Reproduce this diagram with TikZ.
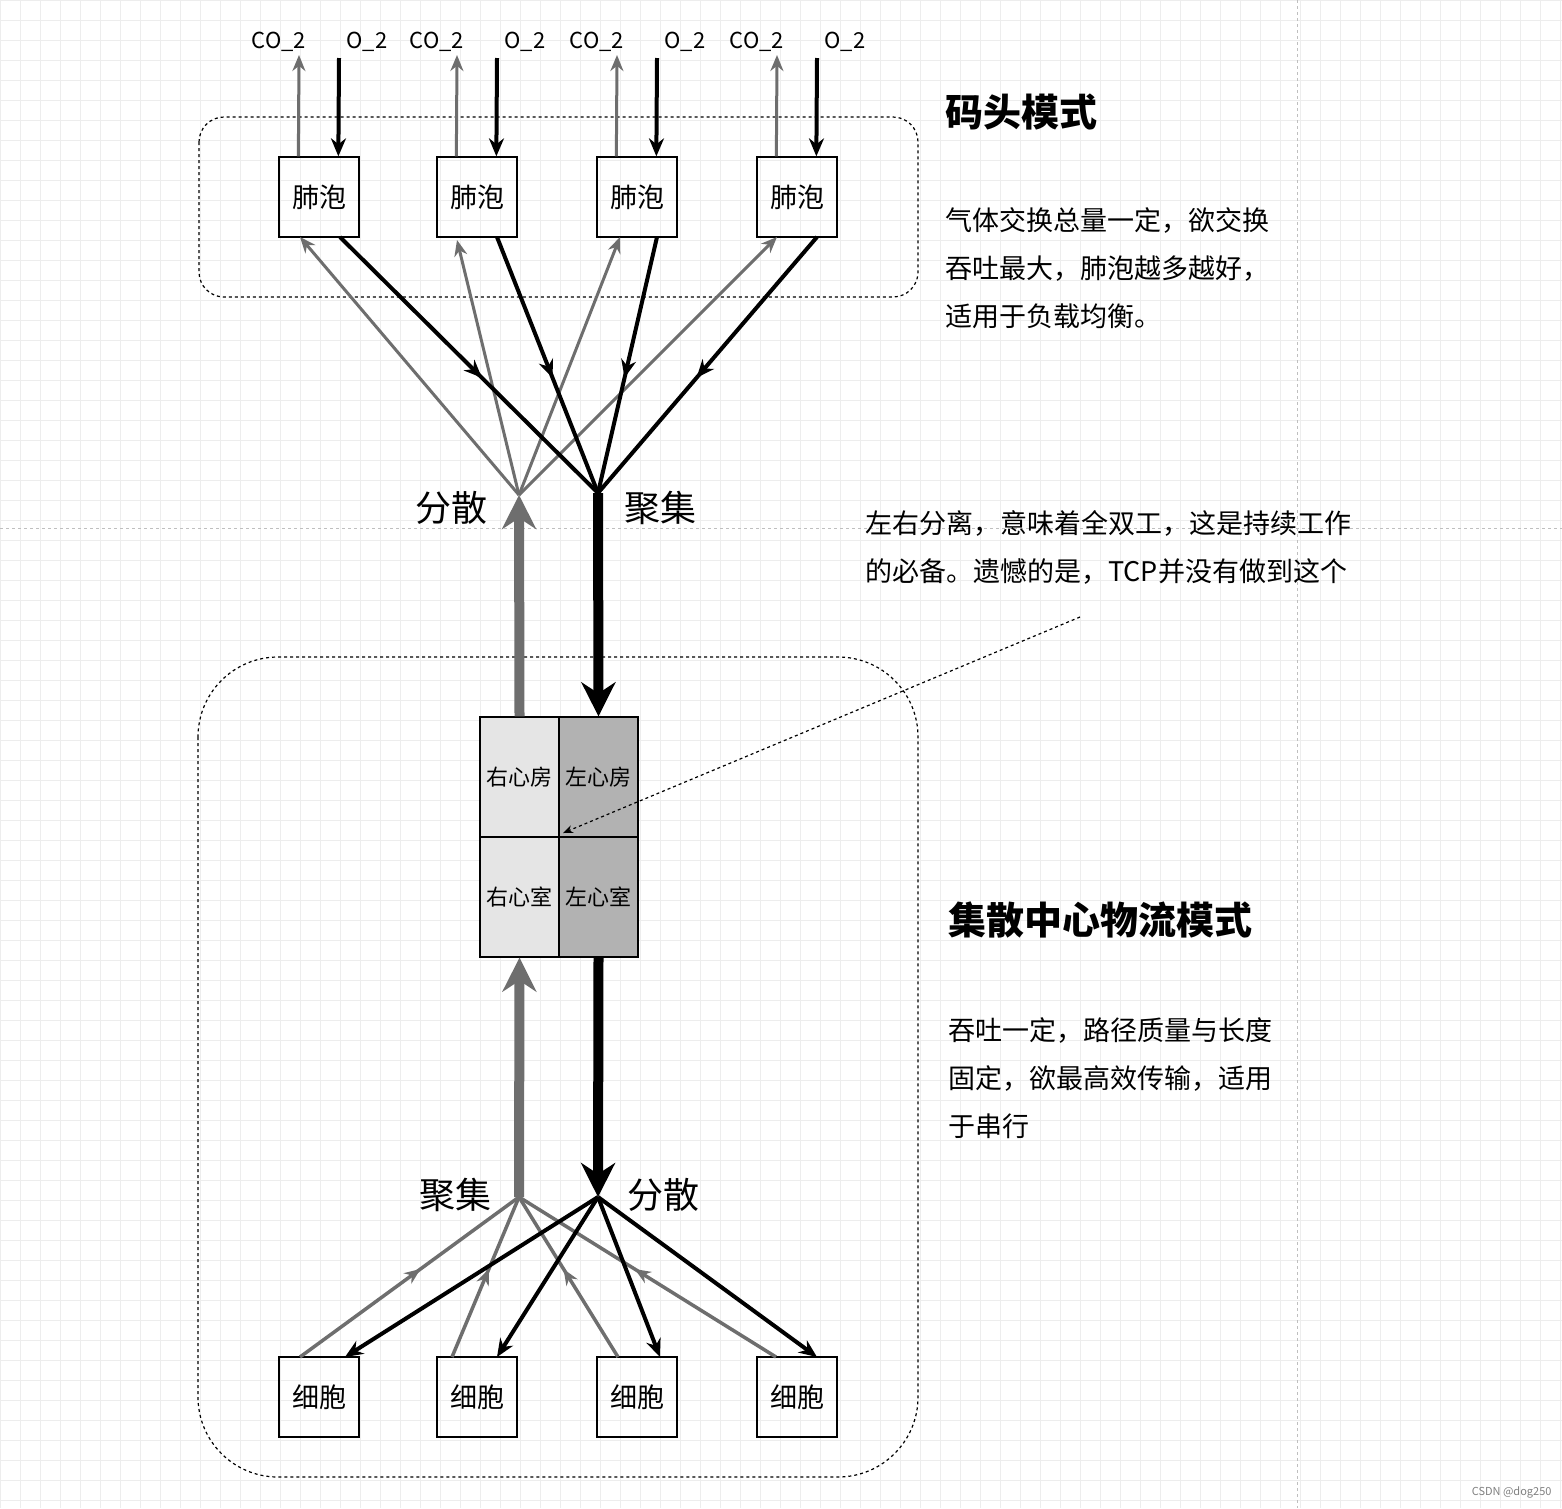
\documentclass[tikz,border=0pt]{standalone}
\usepackage{fontspec}
\setmainfont{Noto Sans CJK SC}
\usetikzlibrary{arrows.meta,decorations.markings,calc}
\definecolor{gr}{HTML}{6E6E6E}
\tikzset{
  fs/.style={font=\fontsize{#1}{#1}\selectfont},
  box/.style={draw,line width=1.3pt,minimum width=80pt,minimum height=80pt,inner sep=0pt,fs=27},
  cell/.style={draw,line width=1.3pt,minimum width=79pt,minimum height=120pt,inner sep=0pt,fs=22},
  thin/.style={line width=3pt,-{Stealth[length=16pt,width=13pt]}},
  blk/.style={line width=4pt,-{Stealth[length=18pt,width=15pt]}},
  mid/.style={line width=4pt,postaction={decorate},decoration={markings,mark=at position 0.55 with {\arrow{Stealth[length=18pt,width=15pt]}}}},
  midg/.style={gr,line width=3.5pt,postaction={decorate},decoration={markings,mark=at position 0.55 with {\arrow{Stealth[length=16pt,width=13pt]}}}},
  big/.style={line width=10pt,-{Stealth[length=34pt,width=34pt]}},
  lab/.style={fs=36,inner sep=0pt},
  para/.style={font=\fontsize{27}{48}\selectfont,align=left,anchor=north west,inner sep=0pt}
}
\begin{document}
\begin{tikzpicture}[x=1pt,y=-1pt]
\useasboundingbox (0,0) rectangle (1562,1508);
\fill[white] (0,0) rectangle (1562,1508);
\foreach \i in {0,20,...,1560} \draw[gray!14,line width=0.8pt] (\i,0)--(\i,1508);
\foreach \j in {0,20,...,1500} \draw[gray!14,line width=0.8pt] (0,\j)--(1562,\j);
\draw[gray!50,dashed,line width=1pt] (1297,0)--(1297,1508);
\draw[gray!50,dashed,line width=1pt] (0,528)--(1562,528);
% groups
\draw[dashed,line width=1.2pt,rounded corners=25pt] (199,117) rectangle (918,297);
\draw[dashed,line width=1.2pt,rounded corners=80pt] (198,657) rectangle (918,1477);
% hubs
\coordinate (D) at (519,495);
\coordinate (C) at (598,493);
\coordinate (D2) at (519,1197);
\coordinate (C2) at (598,1197);
% alveoli and cells
\foreach \n/\x in {1/319,2/477,3/637,4/797}{
  \node[box] (a\n) at (\x,197) {肺泡};
  \node[box] (c\n) at (\x,1397) {细胞};
  \coordinate (co\n) at (\x-20,55);
  \coordinate (o\n) at (\x+20,58);
  \node[fs=22,inner sep=0pt] (tco\n) at (\x-40,42) {CO\_2};
  \node[fs=22,inner sep=0pt] (to\n) at (\x+48,42) {O\_2};
  \draw[gr,thin] ($(a\n.north west)+(20,0)$) -- (co\n);
  \draw[blk] (o\n) -- ($(a\n.north west)+(60,0)$);
}
% heart
\node[cell,fill=gray!20] (ra) at (519.5,777) {右心房};
\node[cell,fill=gray!60] (la) at (598.5,777) {左心房};
\node[cell,fill=gray!20] (rv) at (519.5,897) {右心室};
\node[cell,fill=gray!60] (lv) at (598.5,897) {左心室};
% top fan
\draw[gr,thin] (D) -- (300,237);
\draw[gr,thin] (D) -- (457,240);
\draw[gr,thin] (D) -- (620,237);
\draw[gr,thin] (D) -- (777,237);
\draw[mid] (340,237) -- (C);
\draw[mid] (497,237) -- (C);
\draw[mid] (657,237) -- (C);
\draw[mid] (817,237) -- (C);
\draw[gr,big] (ra.north) -- (D);
\draw[big] (C) -- (la.north);
\node[lab] (l1) at (451,508) {分散};
\node[lab] (l2) at (660,508) {聚集};
% bottom fan
\draw[big] (lv.south) -- (C2);
\draw[gr,big] (D2) -- (rv.south);
\node[lab] (l3) at (455,1195) {聚集};
\node[lab] (l4) at (663,1195) {分散};
\draw[midg] (300,1357) -- (D2);
\draw[midg] (452,1357) -- (D2);
\draw[midg] (618,1357) -- (D2);
\draw[midg] (776,1357) -- (D2);
\draw[blk] (C2) -- (345,1357);
\draw[blk] (C2) -- (497,1357);
\draw[blk] (C2) -- (660,1357);
\draw[blk] (C2) -- (817,1357);
% texts
\node[font=\bfseries\fontsize{38}{38}\selectfont,anchor=west,inner sep=0pt] (t1) at (945,112) {码头模式};
\node[para] (p1) at (945,207) {气体交换总量一定，欲交换\\吞吐最大，肺泡越多越好，\\适用于负载均衡。};
\node[font=\bfseries\fontsize{38}{38}\selectfont,anchor=west,inner sep=0pt] (t2) at (948,920) {集散中心物流模式};
\node[para] (p2) at (948,1017) {吞吐一定，路径质量与长度\\固定，欲最高效传输，适用\\于串行};
\node[para] (p3) at (865,510) {左右分离，意味着全双工，这是持续工作\\的必备。遗憾的是，TCP并没有做到这个};
\coordinate (q) at (1080,617);
\draw[dashed,line width=1.2pt,-{Stealth[length=10pt,width=8pt]}] (q) -- (563,833);
\node[fs=11,text=gray,anchor=south east] (cs) at (1555,1502) {CSDN @dog250};
\end{tikzpicture}
\end{document}
